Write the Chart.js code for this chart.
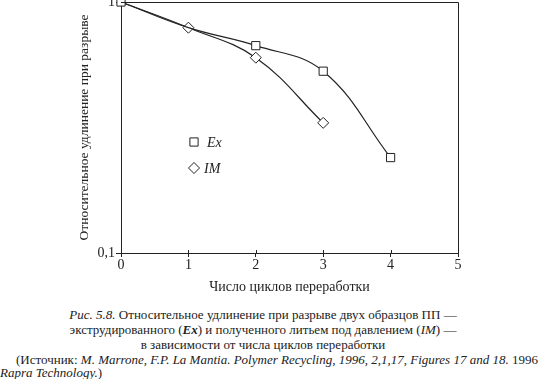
<!DOCTYPE html>
<html>
<head>
<meta charset="utf-8">
<script src="https://cdn.jsdelivr.net/npm/chart.js@4/dist/chart.umd.min.js"></script>
<style>
  html, body { margin: 0; padding: 0; background: #fff; width: 542px; height: 379px; overflow: hidden; }
  #wrap { position: absolute; left: 0; top: -20px; width: 542px; height: 320px; }
  .cap { position: absolute; font-family: "Liberation Serif", "DejaVu Serif", serif; font-size: 13px; line-height: 15px; color: #222; white-space: nowrap; }
  .c { left: 0; width: 526px; text-align: center; }
  i { font-style: italic; }
</style>
</head>
<body>
<div id="wrap"><canvas id="c" width="542" height="320"></canvas></div>
<div class="cap c" style="top:307px"><i>Рис. 5.8.</i> Относительное удлинение при разрыве двух образцов ПП —</div>
<div class="cap c" style="top:322px">экструдированного (<b><i>Ex</i></b>) и полученного литьем под давлением (<i>IM</i>) —</div>
<div class="cap c" style="top:337px">в зависимости от числа циклов переработки</div>
<div class="cap" style="top:352px; left:16px">(Источник: <i>M. Marrone, F.P. La Mantia. Polymer Recycling, 1996, 2,1,17, Figures 17 and 18.</i> 1996</div>
<div class="cap" style="top:365px; left:0px"><i>Rapra Technology.</i>)</div>
<script>
const cycles = [0, 1, 2, 3, 4, 5];
const exValues = [1, 0.79, 0.67, 0.53, 0.24];
const imValues = [1, 0.79, 0.60, 0.33];
const yTicks = [0.1, 1];
const xTickLabels = ['0', '1', '2', '3', '4', '5'];
const seriesNames = ['Ex', 'IM'];
const xTitle = 'Число циклов переработки';
const yTitle = 'Относительное удлинение при разрыве';

const INK = '#222';
const serif = '"Liberation Serif", "DejaVu Serif", serif';

const frame = {
  id: 'frame',
  afterDraw(chart) {
    const {ctx, chartArea: a, scales} = chart;
    ctx.save();
    ctx.strokeStyle = INK;
    ctx.lineWidth = 1;
    ctx.beginPath();
    ctx.moveTo(a.left, a.top + 0.5);
    ctx.lineTo(a.right + 0.5, a.top + 0.5);
    ctx.lineTo(a.right + 0.5, a.bottom);
    ctx.stroke();
    const xs = scales.x;
    ctx.beginPath();
    for (const v of xTickLabels.map(Number)) {
      const px = Math.round(xs.getPixelForValue(v)) + 0.5;
      ctx.moveTo(px, a.bottom);
      ctx.lineTo(px, a.bottom - 3);
    }
    ctx.stroke();
    ctx.restore();
  }
};

const legendBox = {
  id: 'legendBox',
  afterDraw(chart) {
    const {ctx} = chart;
    const items = [
      {name: seriesNames[0], style: 'rect', r: 5.8, x: 194, y: 162, tx: 207},
      {name: seriesNames[1], style: 'rectRot', r: 5.5, x: 194, y: 188, tx: 204}
    ];
    ctx.save();
    for (const it of items) {
      ctx.fillStyle = '#fff';
      ctx.strokeStyle = INK;
      ctx.lineWidth = 1;
      Chart.helpers.drawPoint(ctx, {pointStyle: it.style, radius: it.r, borderWidth: 1, rotation: 0}, it.x, it.y);
      ctx.fillStyle = INK;
      ctx.font = 'italic 14px ' + serif;
      ctx.textBaseline = 'middle';
      ctx.textAlign = 'left';
      ctx.fillText(it.name, it.tx, it.y + 1);
    }
    ctx.restore();
  }
};

new Chart(document.getElementById('c'), {
  type: 'line',
  data: {
    datasets: [
      {
        label: seriesNames[0],
        order: 0,
        data: exValues.map((v, i) => ({x: cycles[i], y: v})),
        borderColor: INK, borderWidth: 1.2,
        pointStyle: 'rect', pointRadius: [5.8, 0, 5.8, 5.8, 5.8],
        pointBackgroundColor: '#fff', pointBorderColor: INK, pointBorderWidth: 1,
        tension: 0.4, clip: false
      },
      {
        label: seriesNames[1],
        order: 1,
        data: imValues.map((v, i) => ({x: cycles[i], y: v})),
        borderColor: INK, borderWidth: 1.2,
        pointStyle: 'rectRot', pointRadius: [0, 5.5, 5.5, 5.5],
        pointBackgroundColor: '#fff', pointBorderColor: INK, pointBorderWidth: 1,
        tension: 0.4, clip: false
      }
    ]
  },
  options: {
    responsive: false,
    animation: false,
    events: [],
    layout: { padding: { top: 22, right: 84, left: 0, bottom: 0 } },
    plugins: { legend: { display: false }, tooltip: { enabled: false } },
    scales: {
      x: {
        type: 'linear', min: 0, max: 5,
        afterFit(s) { s.height = 47; },
        afterBuildTicks(s) { s.ticks = xTickLabels.map(t => ({value: Number(t)})); },
        ticks: { color: INK, font: { family: serif, size: 14 }, padding: 0, maxRotation: 0,
                 callback: (v, i) => xTickLabels[i] },
        grid: { drawOnChartArea: false, color: INK, tickLength: 4, tickColor: INK },
        border: { color: INK, width: 1 },
        title: { display: true, text: xTitle, color: INK, font: { family: serif, size: 14 }, padding: { top: 6 } }
      },
      y: {
        type: 'logarithmic', min: 0.1, max: 1,
        afterFit(s) { s.width = 121; },
        afterBuildTicks(s) { s.ticks = yTicks.map(v => ({value: v})); },
        ticks: { color: INK, font: { family: serif, size: 14 }, padding: 1,
                 callback: v => String(v).replace('.', ',') },
        grid: { drawOnChartArea: false, color: INK, tickLength: 5, tickColor: INK },
        border: { color: INK, width: 1 },
        title: { display: true, text: yTitle, color: INK, font: { family: serif, size: 13.5 }, align: 'center', padding: { top: 76 } }
      }
    }
  },
  plugins: [frame, legendBox]
});
</script>
</body>
</html>
